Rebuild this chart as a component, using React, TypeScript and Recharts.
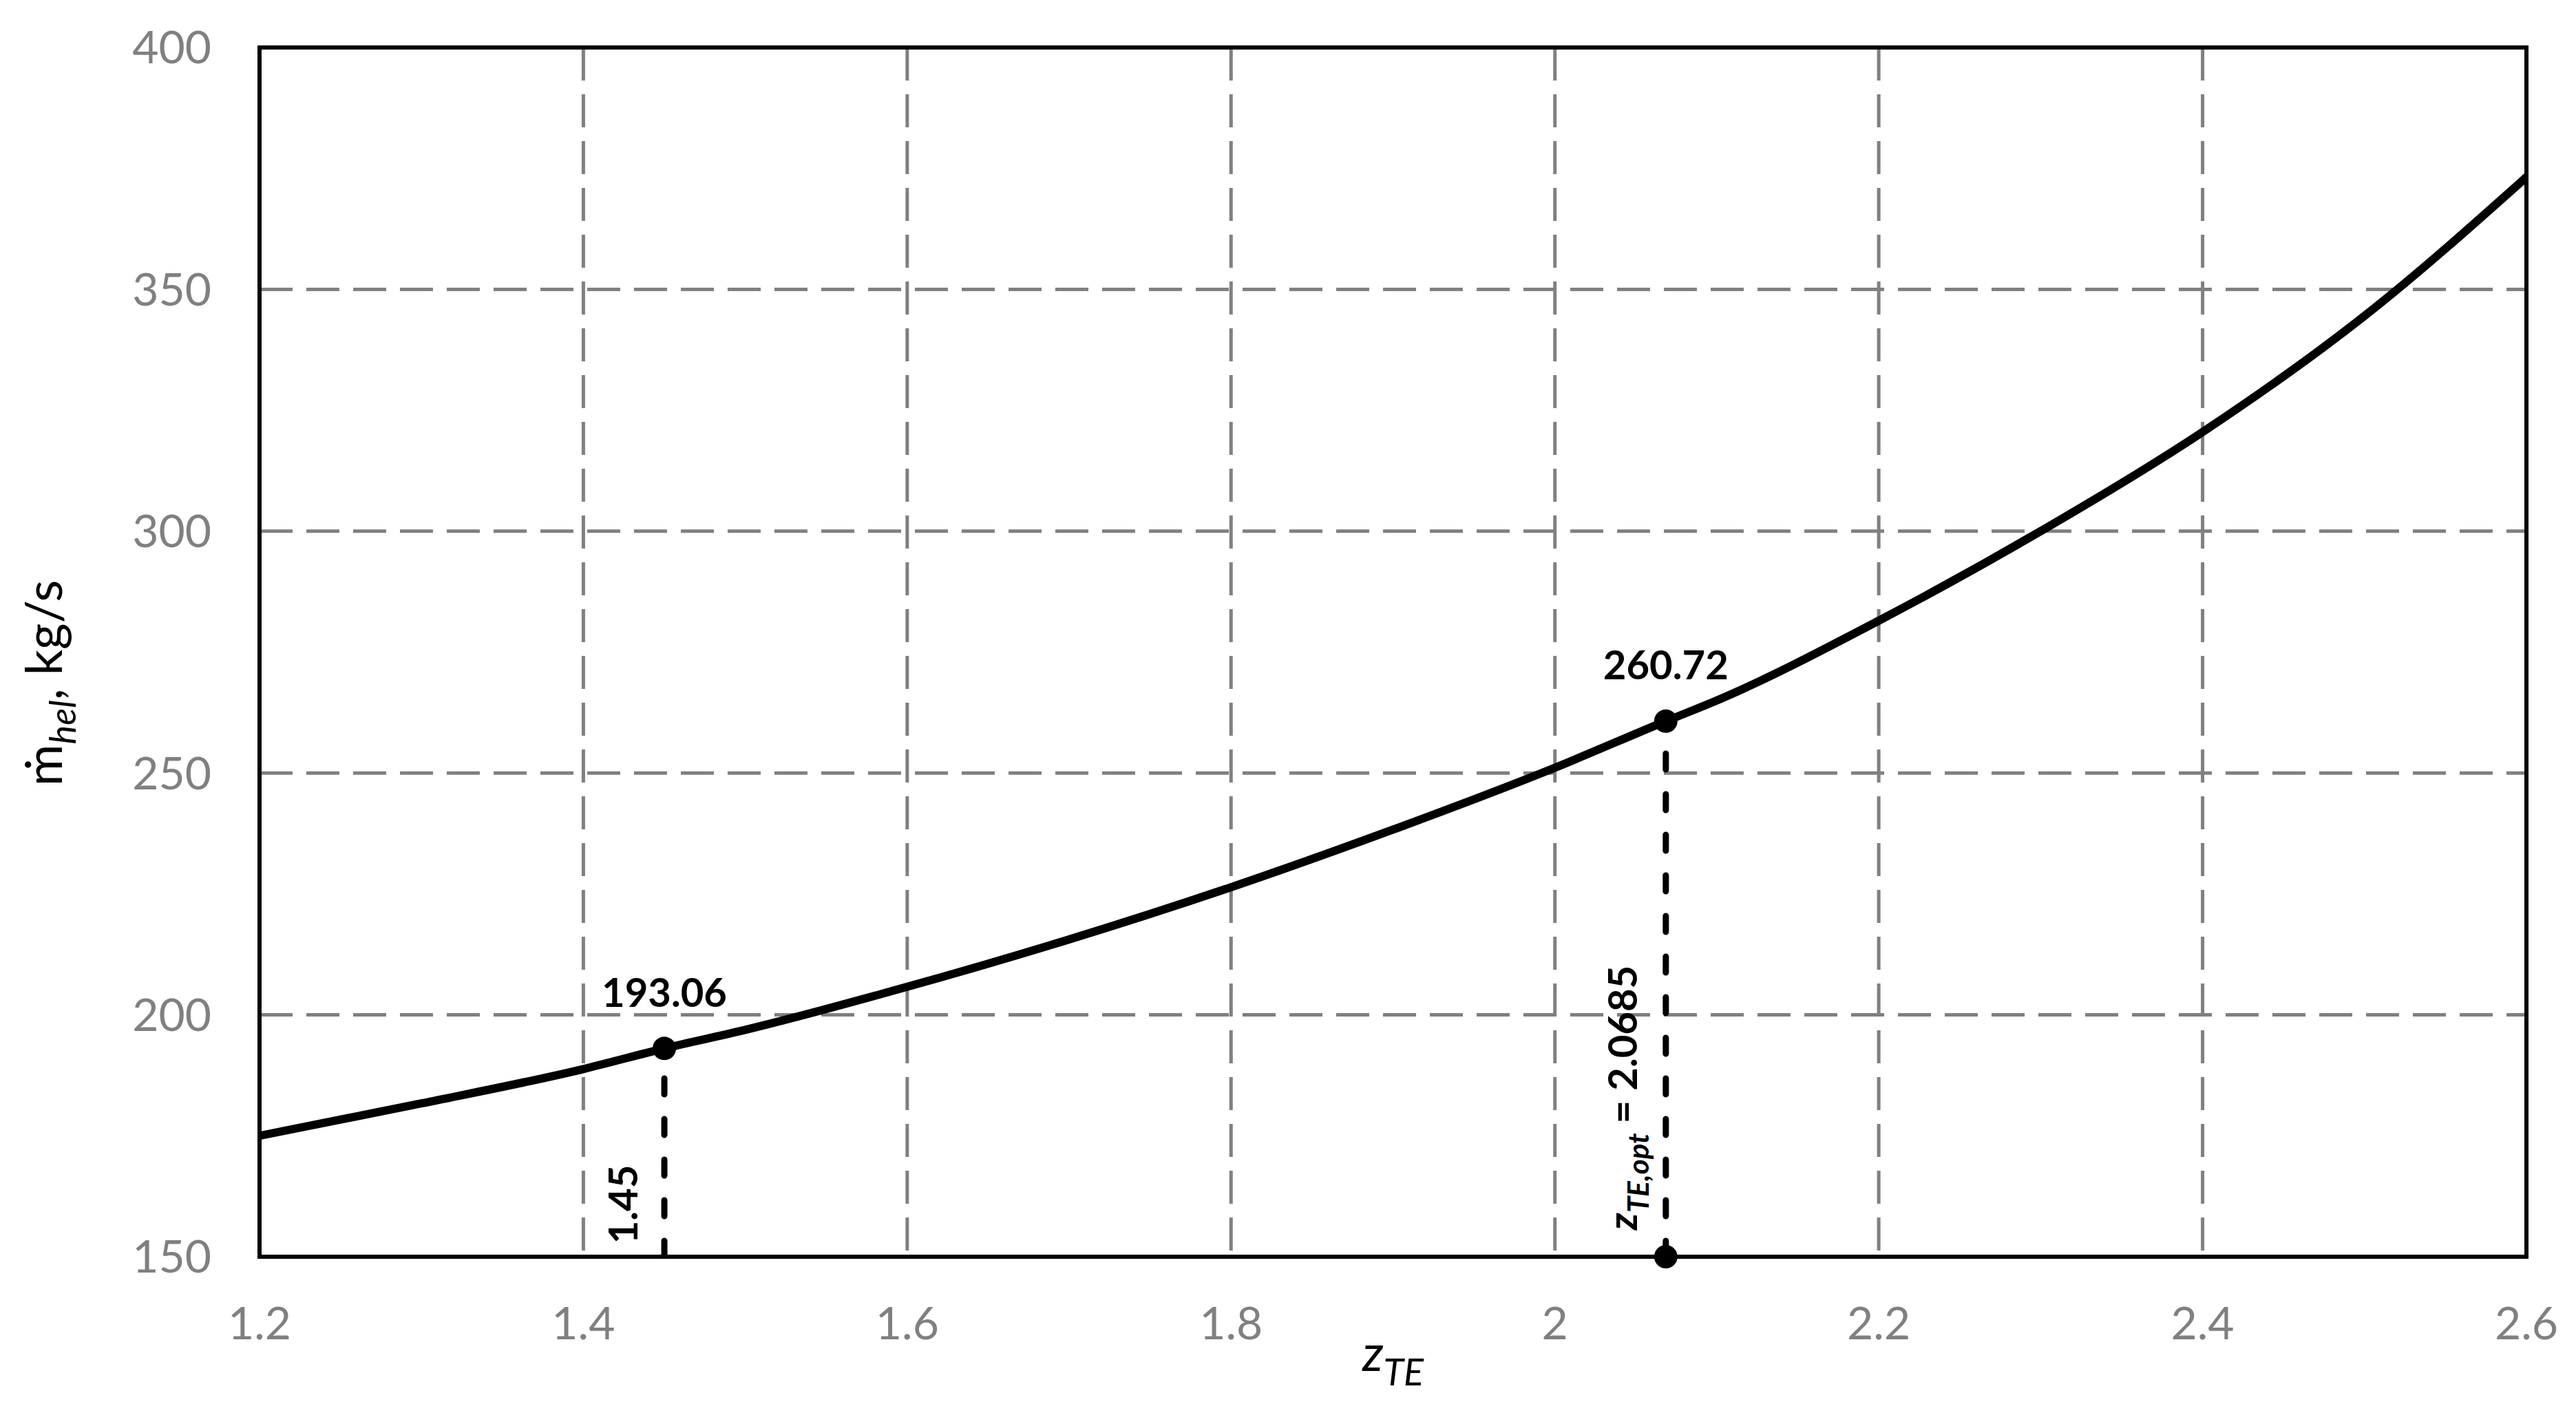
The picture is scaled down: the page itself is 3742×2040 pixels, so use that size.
import React from 'react';
import {
  ComposedChart,
  Line,
  XAxis,
  YAxis,
  CartesianGrid,
  ReferenceDot,
  ReferenceArea,
  Label,
} from 'recharts';

// ---- data ----
const zTE = [1.2, 1.3, 1.4, 1.45, 1.5, 1.6, 1.7, 1.8, 1.9, 2.0, 2.0685, 2.1, 2.2, 2.3, 2.4, 2.5, 2.6];
const mHel = [175.0, 181.7, 188.8, 193.06, 196.9, 205.8, 215.6, 226.4, 238.3, 251.1, 260.72, 265.0, 281.5, 300.0, 320.5, 344.5, 373.2];
const xTicks = [1.2, 1.4, 1.6, 1.8, 2, 2.2, 2.4, 2.6];
const yTicks = [150, 200, 250, 300, 350, 400];
const pointA = { z: 1.45, m: 193.06, label: '193.06', dropLabel: '1.45' };
const pointB = { z: 2.0685, m: 260.72, label: '260.72', dropLabel: '2.0685' };
const yBase = 150;

const curve = zTE.map((z, i) => ({ z, m: mHel[i] }));
const dropA = [{ z: pointA.z, m: yBase }, { z: pointA.z, m: pointA.m }];
const dropB = [{ z: pointB.z, m: yBase }, { z: pointB.z, m: pointB.m }];

const FONT = 'Lato, "Open Sans", sans-serif';

const centerOf = (vb: any) => ({ cx: vb.x + vb.width / 2, cy: vb.y + vb.height / 2 });

const DropLabelA = (props: any) => {
  const { cx, cy } = centerOf(props.viewBox);
  return (
    <text
      transform={`translate(${cx - 39},${cy - 76}) rotate(-90)`}
      textAnchor="middle"
      fontFamily={FONT}
      fontWeight={700}
      fontSize={58}
      fill="#000"
    >
      {pointA.dropLabel}
    </text>
  );
};

const DropLabelB = (props: any) => {
  const { cx, cy } = centerOf(props.viewBox);
  return (
    <text
      transform={`translate(${cx - 42},${cy - 231}) rotate(-90)`}
      textAnchor="middle"
      fontFamily={FONT}
      fontWeight={700}
      fontSize={58}
      fill="#000"
    >
      <tspan fontStyle="italic">z</tspan>
      <tspan fontStyle="italic" fontSize={42} dy={17}>TE,opt</tspan>
      <tspan dy={-17}>{' = ' + pointB.dropLabel}</tspan>
    </text>
  );
};

const YTitle = (props: any) => {
  const vb = props.viewBox;
  return (
    <text
      transform={`translate(${vb.x + 90},${vb.y + vb.height / 2 + 45}) rotate(-90)`}
      textAnchor="middle"
      fontFamily={FONT}
      fontSize={74}
      fill="#000"
    >
      <tspan>ṁ</tspan>
      <tspan fontStyle="italic" fontSize={52} dy={20}>hel</tspan>
      <tspan dy={-20}>, kg/s</tspan>
    </text>
  );
};

const XTitle = (props: any) => {
  const vb = props.viewBox;
  return (
    <text
      x={vb.x + vb.width / 2}
      y={vb.y + 166}
      textAnchor="middle"
      fontFamily={FONT}
      fontSize={72}
      fill="#000"
    >
      <tspan fontStyle="italic">z</tspan>
      <tspan fontStyle="italic" fontSize={54} dy={21}>TE</tspan>
    </text>
  );
};

export default function App() {
  return (
    <div style={{ width: 3742, height: 2040, background: '#fff' }}>
      <style>{'body{margin:0;background:#fff}'}</style>
      <ComposedChart
        width={3742}
        height={2040}
        data={curve}
        margin={{ top: 69, right: 72, left: 0, bottom: 0 }}
      >
        <CartesianGrid
          stroke="#808080"
          strokeWidth={5}
          strokeDasharray="48 20"
          horizontalValues={yTicks}
          verticalValues={xTicks}
        />
        <XAxis
          type="number"
          dataKey="z"
          domain={[1.2, 2.6]}
          ticks={xTicks}
          allowDataOverflow
          height={214}
          axisLine={false}
          tickLine={false}
          tickSize={0}
          tickMargin={73}
          tickFormatter={(v: number) => String(v)}
          tick={{ fill: '#808080', fontSize: 66, fontFamily: FONT }}
        >
          <Label content={XTitle} />
        </XAxis>
        <YAxis
          type="number"
          domain={[150, 400]}
          ticks={yTicks}
          allowDataOverflow
          width={377}
          axisLine={false}
          tickLine={false}
          tickSize={0}
          tickMargin={70}
          tick={{ fill: '#808080', fontSize: 66, fontFamily: FONT }}
        >
          <Label content={YTitle} />
        </YAxis>
        <ReferenceArea
          x1={1.2}
          x2={2.6}
          y1={150}
          y2={400}
          fill="none"
          fillOpacity={0}
          stroke="#000"
          strokeWidth={6}
        />
        <Line
          data={dropA}
          dataKey="m"
          type="linear"
          stroke="#000"
          strokeWidth={9}
          strokeDasharray="23 36"
          strokeLinecap="round"
          dot={false}
          activeDot={false}
          isAnimationActive={false}
        />
        <Line
          data={dropB}
          dataKey="m"
          type="linear"
          stroke="#000"
          strokeWidth={9}
          strokeDasharray="23 36"
          strokeLinecap="round"
          dot={false}
          activeDot={false}
          isAnimationActive={false}
        />
        <Line
          data={curve}
          dataKey="m"
          type="monotone"
          stroke="#000"
          strokeWidth={12}
          strokeLinecap="round"
          dot={false}
          activeDot={false}
          isAnimationActive={false}
        />
        <ReferenceDot
          x={pointA.z}
          y={pointA.m}
          r={17}
          fill="#000"
          stroke="none"
          label={{ value: pointA.label, position: 'top', offset: 43, fill: '#000', fontSize: 58, fontWeight: 700, fontFamily: FONT }}
        />
        <ReferenceDot
          x={pointB.z}
          y={pointB.m}
          r={17}
          fill="#000"
          stroke="none"
          label={{ value: pointB.label, position: 'top', offset: 44, fill: '#000', fontSize: 58, fontWeight: 700, fontFamily: FONT }}
        />
        <ReferenceDot x={pointB.z} y={yBase} r={17} fill="#000" stroke="none" label={<Label content={DropLabelB} />} />
        <ReferenceDot x={pointA.z} y={yBase} r={1} fill="none" stroke="none" label={<Label content={DropLabelA} />} />
      </ComposedChart>
    </div>
  );
}
